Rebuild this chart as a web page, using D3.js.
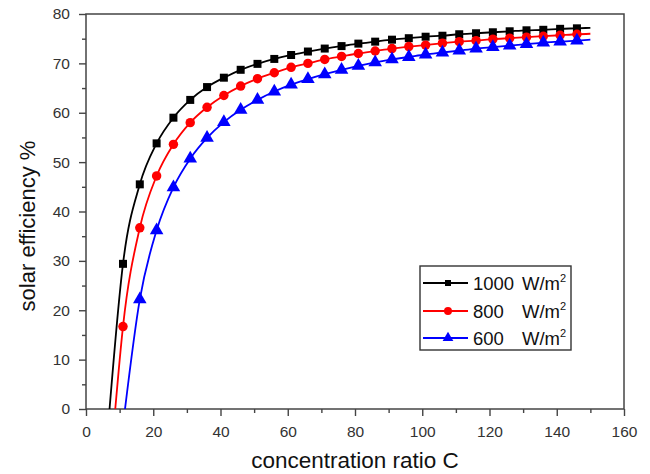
<!DOCTYPE html>
<html><head><meta charset="utf-8">
<script src="https://cdn.jsdelivr.net/npm/d3@7"></script>
<style>body{margin:0;background:#fff}svg{display:block}text{font-family:"Liberation Sans",Arial,sans-serif}</style>
</head><body><svg id="c" width="650" height="474"></svg>
<script>
// Marker positions (concentration ratio C)
const cMarkers = [11,16,21,26,31,36,41,46,51,56,61,66,71,76,81,86,91,96,101,106,111,116,121,126,131,136,141,146];
const eff1000 = [29.4,45.5,53.8,59.0,62.6,65.2,67.1,68.7,69.9,70.9,71.7,72.4,73.0,73.5,74.0,74.4,74.8,75.1,75.4,75.6,75.9,76.1,76.3,76.5,76.7,76.8,77.0,77.1];
const eff800  = [16.7,36.7,47.2,53.6,58.0,61.1,63.5,65.4,66.9,68.1,69.2,70.0,70.8,71.4,72.0,72.5,73.0,73.4,73.7,74.1,74.4,74.6,74.9,75.1,75.3,75.5,75.7,75.9];
const eff600  = [null,22.2,36.2,44.9,50.7,54.9,58.1,60.6,62.6,64.3,65.7,66.8,67.8,68.7,69.5,70.2,70.8,71.3,71.8,72.2,72.6,73.0,73.3,73.6,73.9,74.2,74.4,74.6];
// curve start (efficiency 0) and end (C = 150)
const startC = [7.0, 8.7, 11.6];
const endC = 150;
const endEff = [77.2, 76.0, 74.8];
const seriesNames = ["1000", "800", "600"];
const colors = ["#000000", "#ff0000", "#0000ff"];
const shapes = [d3.symbolSquare, d3.symbolCircle, d3.symbolTriangle];
const xTicks = [0,20,40,60,80,100,120,140,160];
const yTicks = [0,10,20,30,40,50,60,70,80];

const svg = d3.select("#c");
const L=86,R=624,T=14,B=409;
const x = d3.scaleLinear().domain([0,160]).range([L,R]);
const y = d3.scaleLinear().domain([0,80]).range([B,T]);
const axisCol="#444";

// minor ticks
const gx = svg.append("g").attr("transform",`translate(0,${B})`)
  .call(d3.axisBottom(x).tickValues(d3.range(10,160,20)).tickSize(4).tickFormat(""));
const gy = svg.append("g").attr("transform",`translate(${L},0)`)
  .call(d3.axisLeft(y).tickValues(d3.range(5,80,10)).tickSize(4).tickFormat(""));
const gx2 = svg.append("g").attr("transform",`translate(0,${B})`)
  .call(d3.axisBottom(x).tickValues(xTicks).tickSize(7).tickPadding(10).tickFormat(d3.format("d")));
const gy2 = svg.append("g").attr("transform",`translate(${L},0)`)
  .call(d3.axisLeft(y).tickValues(yTicks).tickSize(7).tickPadding(9).tickFormat(d3.format("d")));
[gx,gy,gx2,gy2].forEach(g=>{
  g.select(".domain").remove();
  g.selectAll("line").attr("stroke",axisCol).attr("stroke-width",1.4);
  g.selectAll("text").attr("fill","#333").style("font-size","15.5px").style("font-family","'Liberation Sans',Arial,sans-serif");
});
svg.append("rect").attr("x",L).attr("y",T).attr("width",R-L).attr("height",B-T)
  .attr("fill","none").attr("stroke",axisCol).attr("stroke-width",1.5);

const allEff=[eff1000,eff800,eff600];
const line = d3.line().x(d=>x(d[0])).y(d=>y(d[1])).curve(d3.curveMonotoneX);
allEff.forEach((arr,i)=>{
  const pts=[[startC[i],0]];
  cMarkers.forEach((c,j)=>{ if(arr[j]!=null) pts.push([c,arr[j]]); });
  pts.push([endC,endEff[i]]);
  svg.append("path").attr("d",line(pts)).attr("fill","none").attr("stroke",colors[i]).attr("stroke-width",1.8);
  const sizes=[64,70,80];
  svg.append("g").selectAll("path").data(cMarkers.map((c,j)=>[c,arr[j]]).filter(d=>d[1]!=null))
    .join("path").attr("d",d3.symbol().type(shapes[i]).size(sizes[i]))
    .attr("transform",d=>`translate(${x(d[0])},${y(d[1])})`).attr("fill",colors[i]);
});

// legend
const lg = svg.append("g");
lg.append("rect").attr("x",420).attr("y",266).attr("width",151).attr("height",84)
  .attr("fill","#fff").attr("stroke","#333").attr("stroke-width",1.4);
const rowsY=[283,311,338];
seriesNames.forEach((n,i)=>{
  lg.append("line").attr("x1",423).attr("x2",468).attr("y1",rowsY[i]).attr("y2",rowsY[i]).attr("stroke",colors[i]).attr("stroke-width",1.8);
  lg.append("path").attr("d",d3.symbol().type(shapes[i]).size([36,50,50][i])).attr("transform",`translate(448,${rowsY[i]})`).attr("fill",colors[i]);
  lg.append("text").attr("x",473).attr("y",rowsY[i]+6.5).attr("fill","#111").style("font-size","18.5px").text(n);
  const t=lg.append("text").attr("x",522).attr("y",rowsY[i]+6.5).attr("fill","#111").style("font-size","18.5px").text("W/m");
  t.append("tspan").attr("dy",-8).style("font-size","11px").text("2");
});

svg.append("text").attr("x",355).attr("y",468).attr("text-anchor","middle").attr("fill","#111")
  .style("font-size","22.5px").text("concentration ratio C");
svg.append("text").attr("transform","translate(35,226) rotate(-90)").attr("text-anchor","middle").attr("fill","#111")
  .style("font-size","22px").text("solar efficiency %");
</script></body></html>
